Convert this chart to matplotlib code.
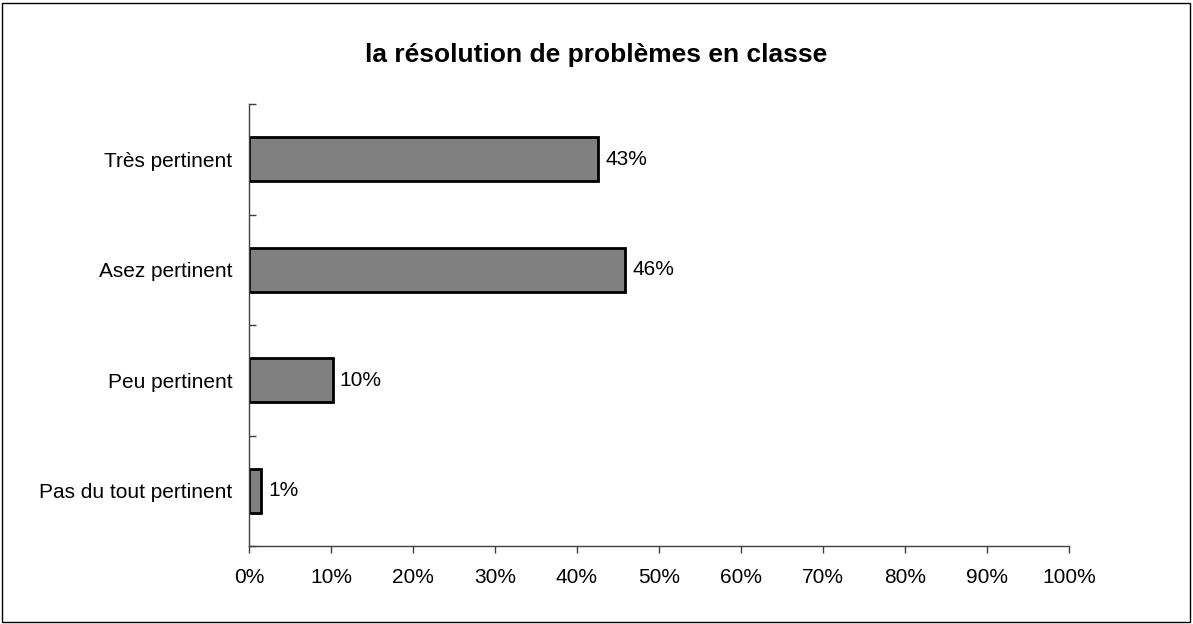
import matplotlib.pyplot as plt
from matplotlib.patches import Rectangle
from matplotlib.ticker import PercentFormatter, MultipleLocator

# Data
categories = ['Très pertinent', 'Asez pertinent', 'Peu pertinent', 'Pas du tout pertinent']
values = [42.6, 45.9, 10.2, 1.5]
labels = ['43%', '46%', '10%', '1%']
title = 'la résolution de problèmes en classe'

plt.rcParams['font.family'] = ['Liberation Sans', 'DejaVu Sans']

fig = plt.figure(figsize=(11.93, 6.24), dpi=100)
ax = fig.add_axes([249 / 1193, 1 - 546 / 624, 820 / 1193, 442 / 624])

y = list(range(len(categories)))
bars = ax.barh(y, values, height=0.4, color='#808080', edgecolor='black', linewidth=2)

# value labels to the right of each bar
for bar, lab in zip(bars, labels):
    ax.annotate(lab, (bar.get_width(), bar.get_y() + bar.get_height() / 2),
                xytext=(5, 0), textcoords='offset points', va='center', ha='left', fontsize=15)

ax.set_xlim(0, 100)
ax.set_ylim(len(categories) - 0.5, -0.5)
ax.xaxis.set_major_locator(MultipleLocator(10))
ax.xaxis.set_major_formatter(PercentFormatter(decimals=0))
ax.set_yticks(y)
ax.set_yticklabels(categories)
ax.set_yticks([i - 0.5 for i in range(len(categories) + 1)], minor=True)

ax.tick_params(axis='x', direction='out', length=5, width=1, color='#404040', labelsize=15, pad=11)
ax.tick_params(axis='y', which='major', length=0, labelsize=15, pad=12)
ax.tick_params(axis='y', which='minor', direction='in', length=5, width=1, color='#404040')

for side in ['top', 'right']:
    ax.spines[side].set_visible(False)
for side in ['left', 'bottom']:
    ax.spines[side].set_color('#404040')
    ax.spines[side].set_linewidth(1)

fig.text(0.5, 1 - 55 / 624, title, ha='center', va='center', fontsize=19, fontweight='bold')

# outer frame
fig.patches.append(Rectangle((2 / 1193, 2 / 624), 1188 / 1193, 619 / 624, transform=fig.transFigure,
                             fill=False, edgecolor='black', linewidth=1))

fig.savefig('out.png', dpi=100)
